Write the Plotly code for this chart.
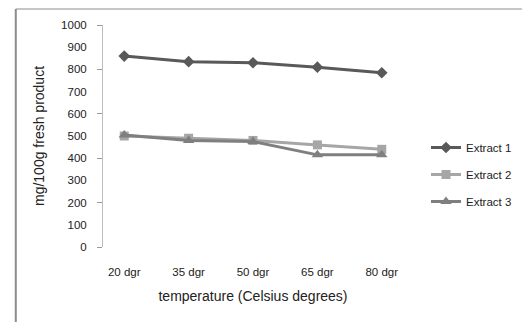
import plotly.graph_objects as go

categories = ["20 dgr", "35 dgr", "50 dgr", "65 dgr", "80 dgr"]
extract1 = [860, 835, 830, 810, 785]
extract2 = [500, 490, 480, 460, 440]
extract3 = [505, 480, 475, 415, 415]
series_names = ["Extract 1", "Extract 2", "Extract 3"]
y_ticks = [0, 100, 200, 300, 400, 500, 600, 700, 800, 900, 1000]

W, H = 529, 322
L, R, T, B = 103, 416, 25, 247

fig = go.Figure()
styles = [
    (extract1, "#595959", "diamond", 9),
    (extract2, "#a6a6a6", "square", 9),
    (extract3, "#7f7f7f", "triangle-up", 10),
]
for i, (vals, col, sym, ms) in enumerate(styles):
    fig.add_trace(go.Scatter(
        x=categories, y=vals, name=series_names[i], mode="lines+markers",
        line=dict(color=col, width=3), marker=dict(symbol=sym, size=ms, color=col),
        legendgroup=str(i),
    ))

font = dict(family="Liberation Sans, Arial, sans-serif", size=11.5, color="#222")
fig.update_layout(
    width=W, height=H, margin=dict(l=L, r=W - R, t=T, b=H - B),
    paper_bgcolor="white", plot_bgcolor="white", font=font,
    showlegend=True,
    legend=dict(x=(440 - L) / (R - L), y=(B - 133) / (B - T), xanchor="left", yanchor="top",
                traceorder="grouped", tracegroupgap=8, itemwidth=30,
                font=font, bgcolor="rgba(0,0,0,0)"),
    xaxis=dict(showline=False, showgrid=False, ticks="", ticklabelstandoff=16,
               title=dict(text="temperature (Celsius degrees)", standoff=14), tickfont=font),
    yaxis=dict(range=[0, 1000], tickvals=y_ticks, showgrid=False, zeroline=False,
               showline=True, linecolor="#bdbdbd", linewidth=1, ticks="", ticklabelstandoff=13,
               title=dict(text="mg/100g fresh product", standoff=13), tickfont=font),
    yaxis2=dict(range=[0, 1000], overlaying="y", side="left", tickvals=y_ticks[::2],
                showticklabels=False, ticks="outside", ticklen=5, tickcolor="#9a9a9a",
                tickwidth=1, showgrid=False, zeroline=False, showline=False),
)
fig.add_trace(go.Scatter(x=[categories[0]], y=[0], yaxis="y2", mode="markers",
                         marker=dict(opacity=0), showlegend=False, hoverinfo="skip"))

pw, ph = R - L, B - T
fig.add_shape(type="line", xref="paper", yref="paper",
              x0=(12 - L) / pw, x1=(12 - L) / pw, y0=(B - 330) / ph, y1=(B - 9) / ph,
              line=dict(color="#8c8c8c", width=2))
fig.add_shape(type="line", xref="paper", yref="paper",
              x0=(12 - L) / pw, x1=(540 - L) / pw, y0=(B - 9) / ph, y1=(B - 9) / ph,
              line=dict(color="#8c8c8c", width=1))

fig.write_html("out.html")
